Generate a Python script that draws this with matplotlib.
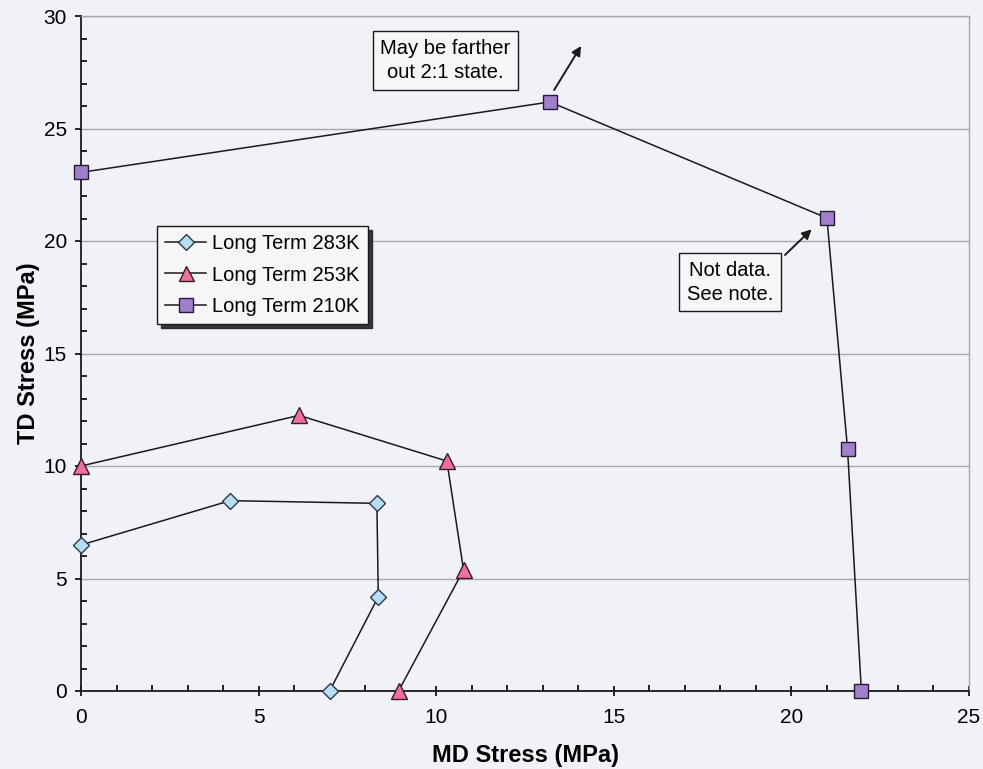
import matplotlib
matplotlib.use("Agg")
import matplotlib.pyplot as plt
from matplotlib.ticker import MultipleLocator

plt.rcParams['font.family'] = ['Liberation Sans', 'DejaVu Sans']

# Data
md_283 = [0.0, 4.2, 8.33, 8.37, 7.0]
td_283 = [6.49, 8.46, 8.34, 4.19, 0.0]
md_253 = [0.0, 6.14, 10.3, 10.77, 8.94]
td_253 = [10.0, 12.25, 10.22, 5.38, 0.0]
md_210 = [0.0, 13.2, 21.0, 21.58, 21.97]
td_210 = [23.05, 26.18, 21.02, 10.76, 0.0]
labels = ["Long Term 283K", "Long Term 253K", "Long Term 210K"]
x_label = "MD Stress (MPa)"
y_label = "TD Stress (MPa)"
note_top = "May be farther\nout 2:1 state."
note_right = "Not data.\nSee note."

bg = '#f1f2f7'
fig = plt.figure(figsize=(9.83, 7.69), dpi=100, facecolor=bg)
ax = fig.add_axes([81/983, 1-691/769, (969-81)/983, (691-16)/769])
ax.set_facecolor(bg)

ax.plot(md_283, td_283, '-', color='#1a1a1a', lw=1.1, marker='D', ms=8.5,
        mfc='#b8dcf2', mec='#2a3a4a', mew=1.0, label=labels[0], zorder=5, clip_on=False)
ax.plot(md_253, td_253, '-', color='#1a1a1a', lw=1.1, marker='^', ms=12,
        mfc='#ec6f9e', mec='#3a1a2a', mew=1.0, label=labels[1], zorder=5, clip_on=False)
ax.plot(md_210, td_210, '-', color='#1a1a1a', lw=1.1, marker='s', ms=10.5,
        mfc='#a07fcb', mec='#2a1a3a', mew=1.0, label=labels[2], zorder=5, clip_on=False)

ax.set_xlim(0, 25)
ax.set_ylim(0, 30)
ax.xaxis.set_major_locator(MultipleLocator(5))
ax.xaxis.set_minor_locator(MultipleLocator(1))
ax.yaxis.set_major_locator(MultipleLocator(5))
ax.yaxis.set_minor_locator(MultipleLocator(1))
ax.grid(axis='y', which='major', color='#a6a6ae', lw=1.0)
ax.set_axisbelow(True)

for s in ['top', 'right']:
    ax.spines[s].set_color('#a6a6ae')
    ax.spines[s].set_linewidth(1.0)
for s in ['left', 'bottom']:
    ax.spines[s].set_color('#1a1a1a')
    ax.spines[s].set_linewidth(1.3)

ax.tick_params(axis='x', which='major', direction='inout', length=7, width=1.2, labelsize=15, pad=9)
ax.tick_params(axis='x', which='minor', direction='in', length=4, width=1.2)
ax.tick_params(axis='y', which='major', direction='out', length=4, width=1.2, labelsize=15, pad=6)
ax.tick_params(axis='y', which='minor', direction='in', length=4.5, width=1.2)

ax.set_xlabel(x_label, fontsize=17, fontweight='bold', labelpad=12)
ax.set_ylabel(y_label, fontsize=17, fontweight='bold', labelpad=3)

leg = ax.legend(loc='upper left', bbox_to_anchor=((157-81)/888, 1-(226-16)/675),
                fontsize=14.5, frameon=True, fancybox=False,
                shadow={'color': '#222222', 'alpha': 0.9, 'ox': 3, 'oy': -3},
                borderpad=0.42, labelspacing=0.6, handlelength=2.0, handletextpad=0.3,
                borderaxespad=0, markerscale=0.9)
leg.get_frame().set_edgecolor('#1a1a1a')
leg.get_frame().set_facecolor('#f6f6f8')
leg.get_frame().set_linewidth(1.0)

ax.text(10.26, 28.02, note_top, fontsize=14.5, ha='center', va='center', linespacing=1.35,
        bbox=dict(boxstyle='square,pad=0.38', fc='#f6f6f8', ec='#1a1a1a', lw=1.0), zorder=6)
ax.annotate('', xy=(14.08, 28.67), xytext=(13.32, 26.71),
            arrowprops=dict(arrowstyle='-|>', color='#1a1a1a', lw=1.4,
                            shrinkA=0, shrinkB=0, mutation_scale=14), zorder=6)

ax.text(18.27, 18.16, note_right, fontsize=14.5, ha='center', va='center', linespacing=1.3,
        bbox=dict(boxstyle='square,pad=0.38', fc='#f6f6f8', ec='#1a1a1a', lw=1.0), zorder=6)
ax.annotate('', xy=(20.57, 20.52), xytext=(19.82, 19.38),
            arrowprops=dict(arrowstyle='-|>', color='#1a1a1a', lw=1.4,
                            shrinkA=0, shrinkB=0, mutation_scale=14), zorder=6)

fig.savefig('out.png', dpi=100, facecolor=bg)
